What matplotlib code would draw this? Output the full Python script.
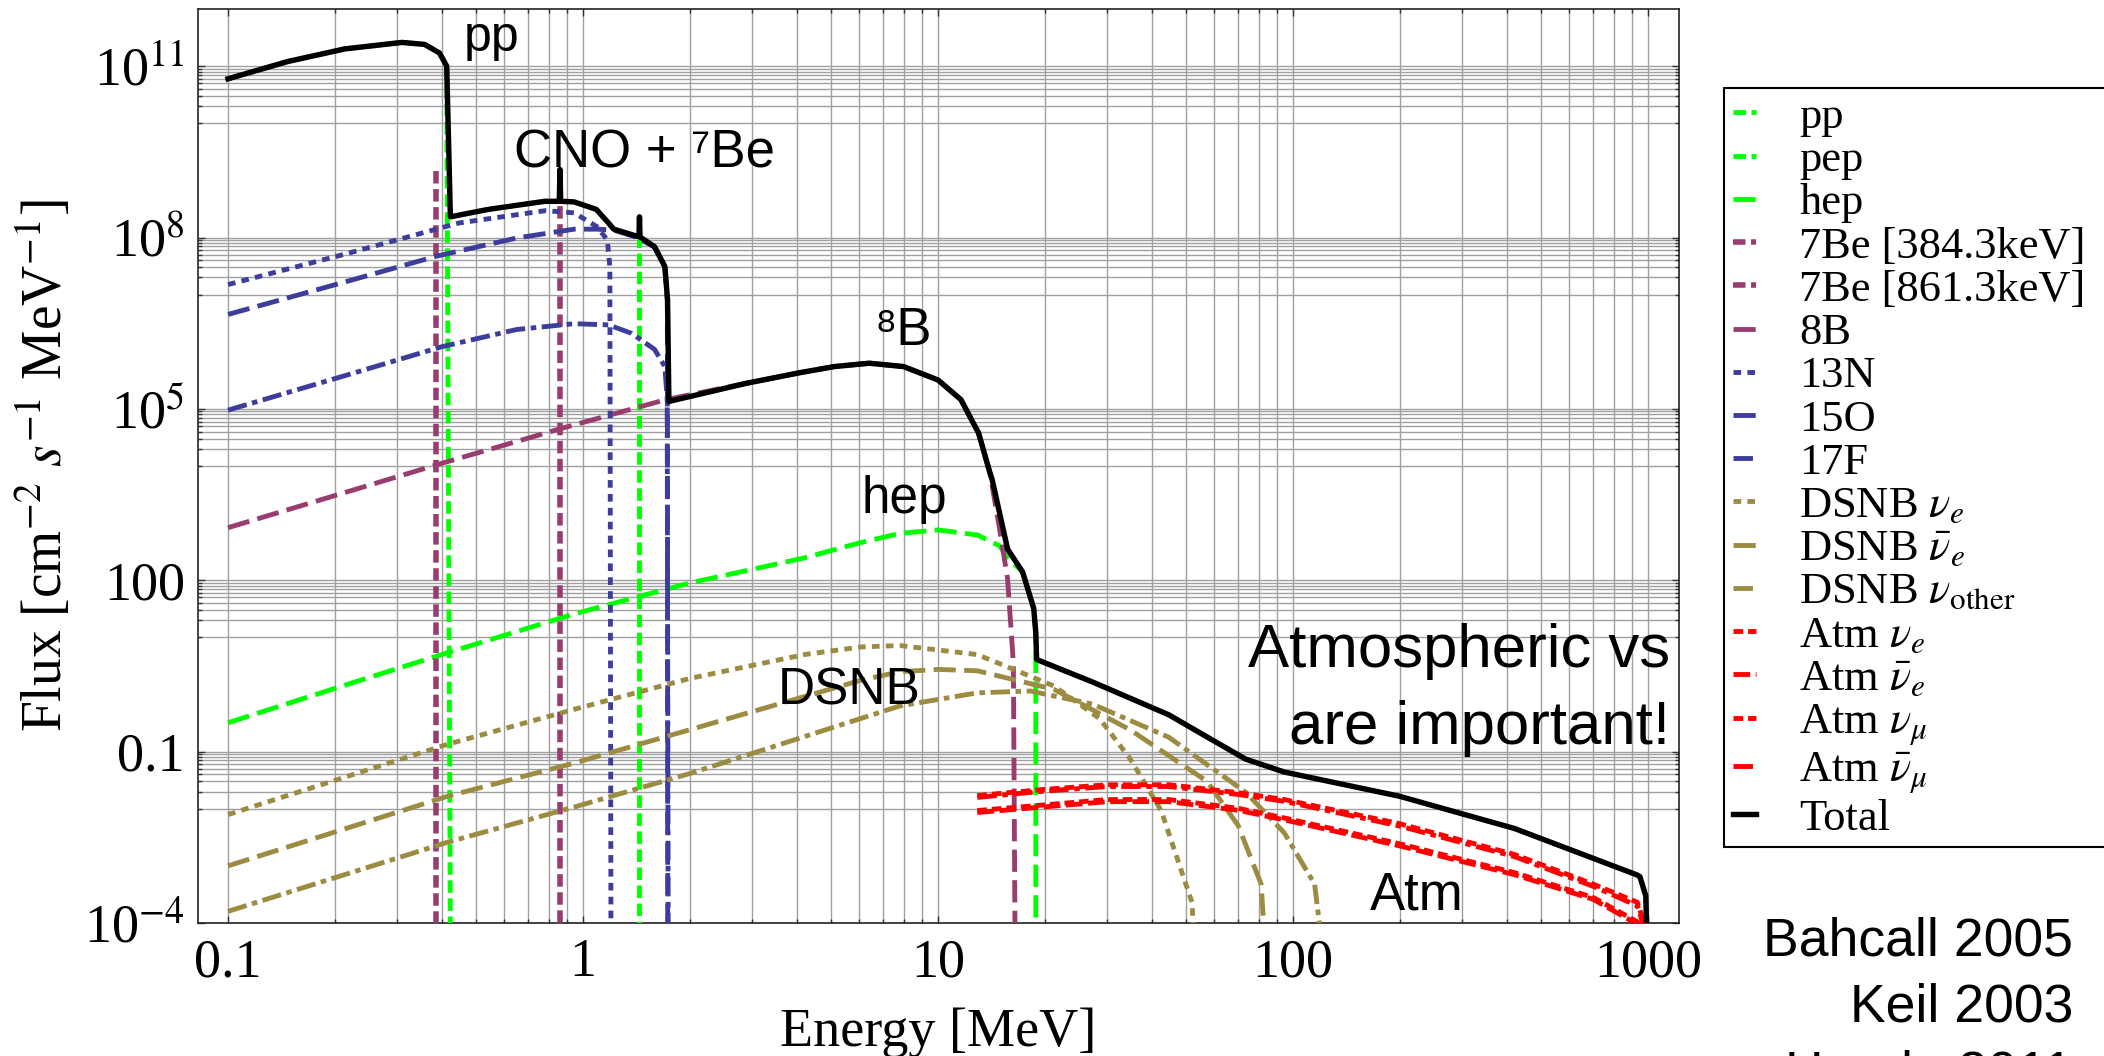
"""Neutrino flux spectra (solar, DSNB, atmospheric) on log-log axes."""
import matplotlib

matplotlib.use("Agg")

import matplotlib.pyplot as plt  # noqa: E402
from matplotlib.ticker import FixedFormatter, FixedLocator, NullFormatter  # noqa: E402

plt.rcParams["font.family"] = ["Liberation Serif", "DejaVu Serif"]
plt.rcParams["mathtext.fontset"] = "stix"
plt.rcParams["lines.scale_dashes"] = False

# ---- values (E in MeV, flux in cm^-2 s^-1 MeV^-1) ----
FLOOR = 1e-5  # lines that run off the bottom of the plot

total_E = [0.1, 0.147, 0.213, 0.309, 0.358, 0.394, 0.413, 0.423, 0.54, 0.78,
           0.857, 0.861, 0.865, 0.944, 1.09, 1.17, 1.22, 1.42, 1.437, 1.442,
           1.447, 1.59, 1.70, 1.73, 1.745, 2.88, 4.08, 5.1, 6.4, 8.0,
           10.0, 11.6, 13.0, 14.0, 14.2, 15.7, 17.3, 18.6, 18.85, 18.95,
           27.2, 44.7, 57.3, 73.5, 94.4, 199, 421, 933, 948, 985, 1000]
total_F = [6.0e10, 1.2e11, 2.0e11, 2.6e11, 2.4e11, 1.7e11, 1.0e11, 2.3e8, 3.1e8, 4.3e8,
           4.3e8, 1.55e9, 4.3e8, 4.2e8, 3.1e8, 1.9e8, 1.4e8, 1.05e8, 1.05e8, 2.3e8,
           1.02e8, 6.9e7, 3.1e7, 8.1e6, 1.35e5, 2.8e5, 4.3e5, 5.5e5, 6.3e5, 5.5e5,
           3.2e5, 1.45e5, 3.8e4, 7.6e3, 5.8e3, 350, 140, 32, 12, 4.1,
           1.66, 0.44, 0.18, 0.074, 0.044, 0.0166, 4.5e-3, 6.9e-4, 6.5e-4, 3.0e-4, FLOOR]

pp_E = [0.1, 0.147, 0.213, 0.309, 0.358, 0.394, 0.413, 0.4235]
pp_F = [6.0e10, 1.2e11, 2.0e11, 2.6e11, 2.4e11, 1.7e11, 1.0e11, FLOOR]

pep_E = [1.442, 1.442]
pep_F = [2.3e8, FLOOR]

hep_E = [0.1, 0.213, 0.416, 0.944, 1.99, 4.19, 6.0, 7.8, 10.0, 12.9,
         14.9, 15.7, 17.3, 18.6, 18.85, 18.85]
hep_F = [0.32, 1.45, 5.4, 25.7, 89, 245, 450, 660, 760, 620,
         400, 250, 140, 32, 12, FLOOR]

be384_E = [0.3843, 0.3843]
be384_F = [1.45e9, FLOOR]
be861_E = [0.8613, 0.8613]
be861_F = [1.55e9, FLOOR]

b8_E = [0.1, 0.17, 0.401, 0.875, 1.71, 2.88, 4.08, 5.1, 6.4, 8.0,
        10.0, 11.6, 13.0, 14.0, 14.9, 15.7, 16.3, 16.5]
b8_F = [832, 2240, 1.12e4, 4.6e4, 1.45e5, 2.8e5, 4.3e5, 5.5e5, 6.3e5, 5.5e5,
        3.2e5, 1.45e5, 3.8e4, 7.6e3, 800, 105, 3.5, FLOOR]

n13_E = [0.1, 0.213, 0.448, 0.783, 0.944, 1.094, 1.17, 1.19, 1.199]
n13_F = [1.5e7, 5.1e7, 1.8e8, 2.95e8, 2.7e8, 1.55e8, 9.1e7, 3.1e7, FLOOR]

o15_E = [0.1, 0.213, 0.386, 0.65, 0.944, 1.094, 1.22, 1.42, 1.59, 1.70, 1.728, 1.732]
o15_F = [4.5e6, 1.66e7, 4.7e7, 9.8e7, 1.4e8, 1.4e8, 1.35e8, 1.0e8, 6.8e7, 3.0e7, 7.9e6, FLOOR]

f17_E = [0.1, 0.213, 0.401, 0.65, 0.944, 1.18, 1.37, 1.59, 1.70, 1.726, 1.738]
f17_F = [9.5e4, 3.8e5, 1.23e6, 2.45e6, 3.1e6, 2.95e6, 2.1e6, 1.1e6, 5.5e5, 1.45e5, FLOOR]

dsnb_e_E = [0.1, 0.416, 0.944, 1.99, 4.2, 6.07, 7.8, 12.9, 21.2, 28.5, 34.8, 42.5, 51.9, 53.5]
dsnb_e_F = [7.9e-3, 0.135, 0.55, 1.9, 5.0, 6.8, 7.2, 5.0, 1.41, 0.38, 0.074, 9.3e-3, 2.3e-4, FLOOR]

dsnb_ebar_E = [0.1, 0.416, 0.944, 1.99, 6.07, 7.8, 10.0, 12.9, 21.2, 34.8, 57.3, 70, 81.3, 84.5]
dsnb_ebar_F = [1.0e-3, 0.0166, 0.063, 0.24, 1.78, 2.5, 2.75, 2.6, 1.23, 0.24, 0.030, 5.1e-3, 4.8e-4, FLOOR]

dsnb_x_E = [0.1, 0.416, 0.944, 1.99, 4.0, 7.8, 12.9, 18.2, 27.2, 44.7, 73.5, 94.4, 115, 124]
dsnb_x_F = [1.6e-4, 2.6e-3, 0.0107, 0.041, 0.166, 0.63, 1.07, 1.15, 0.68, 0.178, 0.0195, 3.8e-3, 4.8e-4, FLOOR]

atm_E = [12.9, 20, 30, 44.7, 70, 94.4, 199, 421, 700, 933, 1000]
atm_numu_F = [0.017, 0.0219, 0.0263, 0.0263, 0.0191, 0.0145, 5.5e-3, 1.58e-3, 4.8e-4, 2.3e-4, 6e-5]
atm_numubar_F = [0.0158, 0.0204, 0.0245, 0.0245, 0.0178, 0.0135, 5.0e-3, 1.45e-3, 4.4e-4, 2.0e-4, 5e-5]
atm_nue_F = [9.3e-3, 0.0117, 0.0145, 0.0145, 0.0102, 6.9e-3, 2.45e-3, 7.6e-4, 2.8e-4, 1.05e-4, 5e-5]
atm_nuebar_F = [8.6e-3, 0.0108, 0.0133, 0.0133, 9.4e-3, 6.4e-3, 2.25e-3, 7.0e-4, 2.6e-4, 9.5e-5, 4.5e-5]

x_major = [0.1, 1, 10, 100, 1000]
x_major_labels = ["0.1", "1", "10", "100", "1000"]
y_major = [1e-4, 0.1, 100, 1e5, 1e8, 1e11]
y_major_labels = ["10$^{-4}$", "0.1", "100", "10$^5$", "10$^8$", "10$^{11}$"]

# ---- styles ----
GREEN = "#00ff00"
PURPLE = "#993d70"
BLUE = "#3d3d9c"
OLIVE = "#9c8c42"
RED = "#ff0000"
SANS = ["Liberation Sans", "DejaVu Sans"]

DOT = (5.5, 4.5)
DASH = (9, 4)
LONG = (16, 6)
DASHDOT = (14, 4, 4, 4)
LW = 3.5

series = [
    ("pp", pp_E, pp_F, GREEN, DASH, LW),
    ("pep", pep_E, pep_F, GREEN, (9, 4), LW),
    ("hep", hep_E, hep_F, GREEN, LONG, LW),
    ("7Be [384.3keV]", be384_E, be384_F, PURPLE, DASH, 4.0),
    ("7Be [861.3keV]", be861_E, be861_F, PURPLE, DASH, 4.0),
    ("8B", b8_E, b8_F, PURPLE, LONG, LW),
    ("13N", n13_E, n13_F, BLUE, DOT, LW),
    ("15O", o15_E, o15_F, BLUE, LONG, LW),
    ("17F", f17_E, f17_F, BLUE, DASHDOT, LW),
    (r"DSNB $\nu_e$", dsnb_e_E, dsnb_e_F, OLIVE, DOT, LW),
    (r"DSNB $\bar{\nu}_e$", dsnb_ebar_E, dsnb_ebar_F, OLIVE, LONG, LW),
    (r"DSNB $\nu_{\rm other}$", dsnb_x_E, dsnb_x_F, OLIVE, DASHDOT, LW),
    (r"Atm $\nu_e$", atm_E, atm_nue_F, RED, (7, 3.5), LW),
    (r"Atm $\bar{\nu}_e$", atm_E, atm_nuebar_F, RED, (12, 4), LW),
    (r"Atm $\nu_\mu$", atm_E, atm_numu_F, RED, (7, 3.5), LW),
    (r"Atm $\bar{\nu}_\mu$", atm_E, atm_numubar_F, RED, DASHDOT, LW),
]

fig = plt.figure(figsize=(21.04, 10.56), dpi=100)
ax = fig.add_axes([198 / 2104, 1 - 923 / 1056, 1481 / 2104, 914 / 1056])

handles = []
for label, e, f, color, dashes, lw in series:
    (line,) = ax.plot(e, f, color=color, lw=lw, label=label, zorder=3)
    line.set_dashes(dashes)
    handles.append(line)
(total_line,) = ax.plot(total_E, total_F, color="black", lw=3.9, label="Total", zorder=5)
handles.append(total_line)

ax.set_xscale("log")
ax.set_yscale("log")
ax.set_xlim(0.0823, 1222)
ax.set_ylim(1e-4, 1e12)

ax.xaxis.set_major_locator(FixedLocator(x_major))
ax.xaxis.set_major_formatter(FixedFormatter(x_major_labels))
ax.xaxis.set_minor_locator(FixedLocator([m * d for d in x_major[:-1] for m in range(2, 10)]))
ax.xaxis.set_minor_formatter(NullFormatter())
ax.yaxis.set_major_locator(FixedLocator(y_major))
ax.yaxis.set_major_formatter(FixedFormatter(y_major_labels))
ax.yaxis.set_minor_locator(FixedLocator([m * v / 10 for v in y_major[1:] for m in range(1, 10)]))
ax.yaxis.set_minor_formatter(NullFormatter())

ax.set_axisbelow(True)
ax.grid(True, which="both", color="#a0a0a0", lw=1.0)
ax.tick_params(which="both", direction="in", top=True, right=True, color="#333333", width=1.0)
ax.tick_params(which="major", length=5, labelsize=39)
ax.tick_params(which="minor", length=3)
ax.tick_params(axis="x", which="major", pad=10.8)
ax.tick_params(axis="y", which="major", pad=9.4)
for sp in ax.spines.values():
    sp.set_color("#222222")
    sp.set_linewidth(1.2)

ax.set_xlabel("Energy [MeV]", fontsize=39)
ax.xaxis.set_label_coords(0.5, -(1007 - 923) / 914)
ax.set_ylabel(r"Flux [cm$^{-2}$ $s^{-1}$ MeV$^{-1}$]", fontsize=40)
ax.yaxis.set_label_coords(-(198 - 74) / 1481, 0.5)

# in-plot annotations
ax.text(0.461, 1.86e11, "pp", family=SANS, fontsize=36, va="baseline")
ax.text(0.638, 1.66e9, "CNO + \u2077Be", family=SANS, fontsize=38, va="baseline")
ax.text(6.62, 1.32e6, "\u2078B", family=SANS, fontsize=38, va="baseline")
ax.text(6.07, 1.5e3, "hep", family=SANS, fontsize=37, va="baseline")
ax.text(3.54, 0.68, "DSNB", family=SANS, fontsize=37, va="baseline")
ax.text(1156, 2.99, "Atmospheric vs", family=SANS, fontsize=44.5, ha="right", va="baseline")
ax.text(1156, 0.134, "are important!", family=SANS, fontsize=44.5, ha="right", va="baseline")
ax.text(165, 1.7e-4, "Atm", family=SANS, fontsize=38, va="baseline")

fig.text(2073 / 2104, 1 - 955 / 1056, "Bahcall 2005", family=SANS, fontsize=38.5, ha="right", va="baseline")
fig.text(2073 / 2104, 1 - 1021.7 / 1056, "Keil 2003", family=SANS, fontsize=38.5, ha="right", va="baseline")
fig.text(2073 / 2104, 1 - 1088.4 / 1056, "Honda 2011", family=SANS, fontsize=38.5, ha="right", va="baseline")

leg = fig.legend(
    handles=handles,
    loc="upper left",
    bbox_to_anchor=(1724 / 2104, 0, 0.2, 1 - 88 / 1056),
    bbox_transform=fig.transFigure,
    mode="expand",
    borderaxespad=0,
    borderpad=0.2,
    fontsize=32,
    handlelength=0.52,
    handletextpad=0.97,
    labelspacing=0.07,
    fancybox=False,
    framealpha=1,
    edgecolor="black",
)
leg.get_frame().set_linewidth(1.5)

fig.savefig("out.png", dpi=100, facecolor="white")
